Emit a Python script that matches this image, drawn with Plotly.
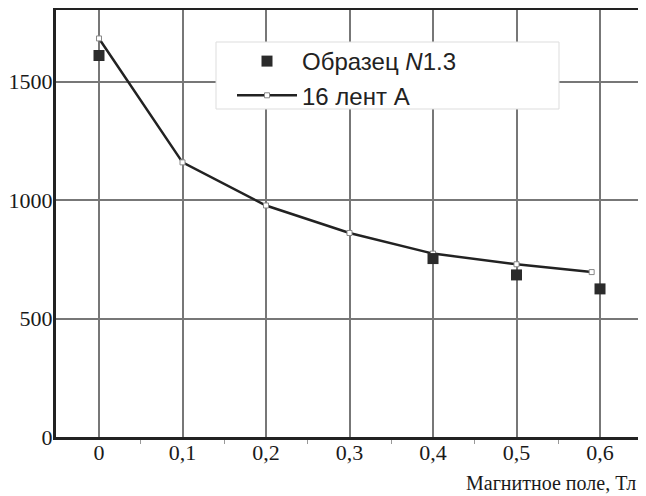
import plotly.graph_objects as go

# Data
sample_x = [0.0, 0.4, 0.5, 0.6]
sample_y = [1610, 753, 684, 625]
tapes_x = [0.0, 0.1, 0.2, 0.3, 0.4, 0.5, 0.59]
tapes_y = [1682, 1159, 977, 861, 774, 729, 696]
x_ticks = [0, 0.1, 0.2, 0.3, 0.4, 0.5, 0.6]
x_tick_labels = ["0", "0,1", "0,2", "0,3", "0,4", "0,5", "0,6"]
y_ticks = [0, 500, 1000, 1500]
y_tick_labels = ["0", "500", "1000", "1500"]
series_names = ["Образец <i>N</i>1.3", "16 лент А"]
x_title = "Магнитное поле, Тл"

fig = go.Figure()
fig.add_trace(go.Scatter(
    x=tapes_x, y=tapes_y, mode="lines+markers", name=series_names[1],
    line=dict(color="#222222", width=2.5),
    marker=dict(symbol="square", size=5, color="white",
                line=dict(color="#888888", width=1)),
))
fig.add_trace(go.Scatter(
    x=sample_x, y=sample_y, mode="markers", name=series_names[0],
    marker=dict(symbol="square", size=11, color="#2b2b2b",
                line=dict(width=0)),
))

axis_common = dict(
    showgrid=True, gridcolor="#777777", gridwidth=2,
    showline=True, linecolor="#222222", linewidth=3, mirror=True,
    zeroline=False, ticks="", ticklen=0, automargin=False,
    tickfont=dict(family="Liberation Serif", size=22, color="#1a1a1a"),
)
fig.update_xaxes(
    range=[-0.0515, 0.6455], tickvals=x_ticks, ticktext=x_tick_labels,
    ticklabelstandoff=-6,
    minor=dict(tickvals=[0.05, 0.15, 0.25, 0.35, 0.45, 0.55], ticks="outside",
               ticklen=4, tickcolor="#999999", tickwidth=1, showgrid=False),
    **axis_common,
)
fig.update_yaxes(range=[0, 1802], tickvals=y_ticks, ticktext=y_tick_labels,
                 ticklabelstandoff=-4, **axis_common)

# legend background box (plot area spans x 56..638, y 10..437 in the window)
fig.add_shape(type="rect", xref="paper", yref="paper",
              x0=(216 - 56) / 582, x1=(559 - 56) / 582,
              y0=(437 - 109) / 427, y1=(437 - 42) / 427,
              fillcolor="white", line=dict(color="#dddddd", width=1), layer="above")

fig.add_annotation(text=x_title, xref="paper", yref="paper", x=1.0, y=-0.108,
                   xanchor="right", yanchor="middle", showarrow=False,
                   font=dict(family="Liberation Serif", size=20, color="#1a1a1a"))

# the page body has an 8px default margin, so the figure is 8px smaller
fig.update_layout(
    template="none",
    width=638, height=488,
    margin=dict(l=48, r=8, t=2, b=59),
    paper_bgcolor="white", plot_bgcolor="white",
    showlegend=True,
    legend=dict(x=(232 - 56) / 582, y=(437 - 39) / 427, xanchor="left", yanchor="top",
                bgcolor="rgba(0,0,0,0)", borderwidth=0, itemwidth=60,
                traceorder="reversed", tracegroupgap=0,
                font=dict(family="Liberation Sans", size=24, color="#222222")),
)
fig.write_html("out.html")
